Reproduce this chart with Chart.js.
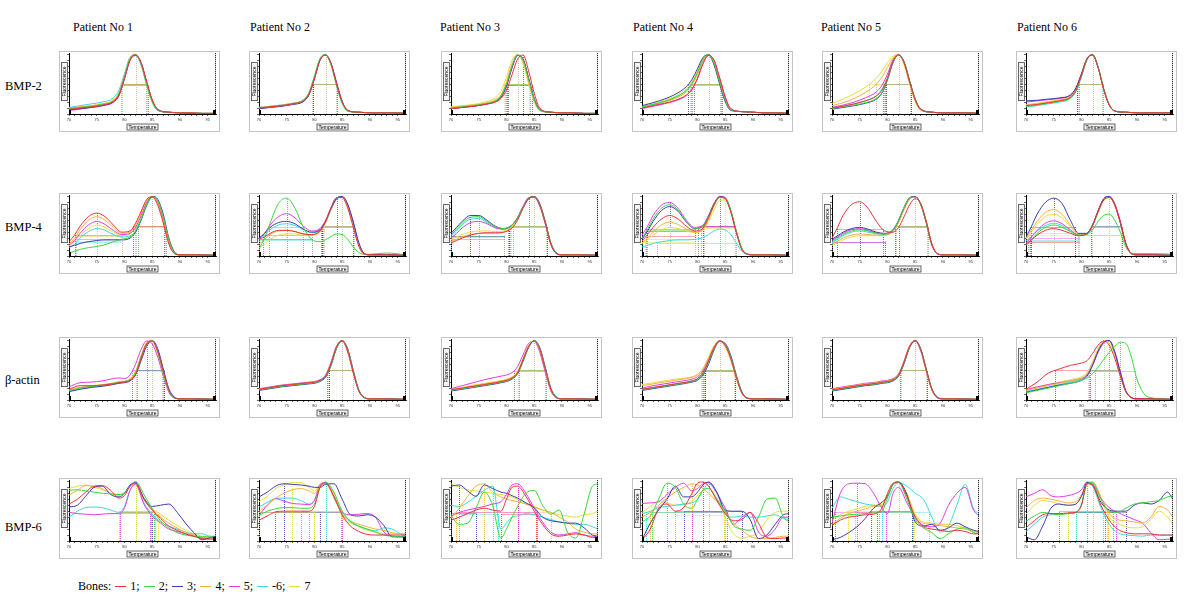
<!DOCTYPE html>
<html><head><meta charset="utf-8">
<script src="https://cdn.jsdelivr.net/npm/chart.js@4/dist/chart.umd.min.js"></script>
<style>
body{margin:0;width:1200px;height:596px;background:#fff;position:relative;overflow:hidden;font-family:"Liberation Serif","Times New Roman",serif;color:#000}
.lbl{position:absolute;font-size:12px;white-space:nowrap;line-height:1}
.frame{position:absolute;width:159px;height:79px;border:1px solid #c4c4c4;background:#fff}
.sw{display:inline-block;width:11px;height:0;border-top:1px solid;vertical-align:middle;margin:0 4px 1px 1px}
canvas{display:block}
</style></head><body>
<script>
// ---------- labels ----------
const PATIENTS = ['Patient No 1','Patient No 2','Patient No 3','Patient No 4','Patient No 5','Patient No 6'];
const GENES = ['BMP-2','BMP-4','β-actin','BMP-6'];
const BONES = ['1','2','3','4','5','-6','7'];
const COLORS = ['#f0303a','#3ad83a','#3c3cb4','#f5b03c','#e23ce2','#3cdada','#e8dc3c'];
const X_TICKS = [70,75,80,85,90,95];

// ---------- temperatures (x) per gene ----------
const X_BMP2  = [70,72,74,76,78,79,80,81,82,83,84,85,86,88,90,92,94,96.5];
const X_BMP4  = [70,71,72,73.5,75,76.5,78,79.5,81,82,83,84,85,86,87,88,89,90,93,96.5];
const X_ACTIN = [70,72,74,76,78,79,80,81,82,83,84,85,86,87,88,89,90,92,96.5];
const X_BMP6  = [70,71.5,73,74.5,76,77.5,79,80,81,82,83.5,85,86.5,88,89.5,91,92.5,94,95.5,96.5];

// ---------- fluorescence (% of panel height), bones 1..7 ----------
const BMP2_P1 = [
 [8,10,12,15,21,32,60,90,99,86,54,24,8,3,2,2,1,1],
 [9,11,13,16,22,34,62,93,100,84,50,21,6,3,2,2,1,1],
 [7,9,11,14,20,31,60,91,99,86,53,23,7,3,2,1,1,1],
 [10,12,14,17,23,35,64,94,99,83,50,21,6,3,2,2,1,1],
 [6,8,11,14,20,31,59,90,98,86,54,23,7,3,2,2,1,1],
 [11,14,17,20,27,40,68,95,98,82,48,20,6,3,2,2,1,1],
 [10,12,14,17,24,36,64,94,100,83,50,20,6,3,2,2,1,1]];
const BMP2_P2 = [
 [10,12,14,17,22,33,60,90,99,84,50,20,6,3,2,2,2,1],
 [10,12,14,17,23,35,63,93,100,82,47,18,5,3,2,2,2,1],
 [9,11,13,16,21,32,59,90,99,85,52,21,6,3,2,2,2,1],
 [11,13,15,18,23,35,62,92,99,83,49,19,5,3,2,2,2,1],
 [9,11,13,16,21,32,60,91,99,84,51,21,6,3,2,2,2,1],
 [11,13,15,18,24,36,64,93,99,82,47,18,5,3,2,2,2,1],
 [10,12,14,17,23,34,62,92,100,83,48,19,5,3,2,2,2,1]];
const BMP2_P3 = [
 [9,11,13,16,20,26,40,66,92,99,72,35,10,3,2,2,1,1],
 [10,12,14,17,22,30,50,80,99,90,58,25,7,3,2,2,1,1],
 [9,11,13,16,21,28,47,78,98,92,60,26,7,3,2,2,1,1],
 [11,13,15,18,24,32,54,84,100,88,55,22,6,3,2,2,1,1],
 [9,11,13,16,21,28,47,77,98,92,60,26,8,3,2,2,1,1],
 [10,12,14,17,22,30,50,80,99,90,57,24,7,3,2,2,1,1],
 [12,14,16,20,27,38,62,90,100,84,50,20,6,3,2,2,1,1]];
const BMP2_P4 = [
 [10,14,18,23,32,42,60,85,99,90,60,28,9,4,3,2,2,1],
 [12,16,21,28,40,52,70,92,100,85,54,24,7,4,3,2,2,1],
 [14,19,25,33,46,58,76,95,99,82,50,21,6,4,3,2,2,1],
 [11,15,20,26,37,48,66,89,99,87,56,25,8,4,3,2,2,1],
 [9,13,17,22,31,41,59,84,98,90,61,29,9,4,3,2,2,1],
 [12,16,21,28,39,50,68,90,100,86,55,24,7,4,3,2,2,1],
 [13,17,23,30,43,55,73,93,100,84,52,22,7,4,3,2,2,1]];
const BMP2_P5 = [
 [10,13,17,22,30,40,60,88,99,86,54,24,8,3,2,2,2,1],
 [9,12,15,19,26,36,58,87,99,87,55,25,8,3,2,2,2,1],
 [8,11,14,18,25,35,57,86,99,88,56,25,8,3,2,2,2,1],
 [14,19,26,36,50,62,78,94,100,84,52,22,7,3,2,2,2,1],
 [11,15,20,27,37,48,67,91,100,85,53,23,7,3,2,2,2,1],
 [10,13,17,22,31,42,62,89,99,86,54,24,8,3,2,2,2,1],
 [18,25,34,45,60,72,86,97,99,82,50,21,6,3,2,2,2,1]];
const BMP2_P6 = [
 [14,16,19,22,28,40,65,92,99,78,42,15,5,3,2,2,2,2],
 [13,15,18,21,27,38,63,91,100,79,43,16,5,3,2,2,2,2],
 [22,23,25,27,32,44,68,93,99,78,42,15,5,3,2,2,2,2],
 [15,17,20,23,29,41,66,92,99,78,42,15,5,3,2,2,2,2],
 [20,22,24,26,31,43,67,93,100,78,41,15,5,3,2,2,2,2],
 [12,14,17,20,26,38,63,91,99,79,43,16,5,3,2,2,2,2],
 [16,18,21,24,30,42,66,93,100,78,41,15,5,3,2,2,2,2]];

const BMP4_P1 = [
 [24,35,50,66,72,66,52,40,42,55,75,95,99,85,55,20,4,2,2,1],
 [5,8,11,14,16,19,24,28,32,42,62,86,99,93,66,28,6,2,2,1],
 [15,18,21,24,26,27,27,27,30,40,60,85,100,95,70,30,7,2,2,1],
 [20,30,44,60,66,60,48,38,40,52,72,93,100,88,58,22,5,2,2,1],
 [18,26,38,52,58,53,43,36,38,48,68,90,99,90,62,24,5,2,2,1],
 [14,20,30,41,46,43,36,32,34,42,62,85,98,92,66,27,6,2,2,1],
 [17,24,34,46,52,48,40,34,37,47,67,89,99,90,62,24,5,2,2,1]];
const BMP4_P2 = [
 [28,32,38,43,43,41,37,36,42,58,82,98,98,80,48,16,3,2,2,1],
 [12,30,55,88,97,80,48,28,24,27,33,37,36,28,15,6,3,3,5,2],
 [30,38,48,56,58,54,45,40,44,58,80,97,100,87,57,22,4,2,2,1],
 [20,28,36,42,43,41,37,36,41,56,80,97,99,82,51,18,3,2,2,1],
 [28,38,52,66,71,64,50,42,46,60,80,96,99,84,54,20,4,2,2,1],
 [28,35,44,52,54,51,44,39,43,57,78,95,99,86,57,22,4,2,2,1],
 [14,20,28,35,37,37,35,35,40,55,78,96,100,85,55,20,4,2,2,1]];
const BMP4_P3 = [
 [22,26,30,35,38,39,39,40,47,60,80,96,99,85,55,20,4,2,2,1],
 [35,45,55,65,66,58,49,46,52,64,82,96,99,86,56,21,5,2,2,1],
 [38,48,58,68,68,60,50,46,52,64,82,97,100,88,58,22,5,2,2,1],
 [25,28,32,36,38,38,38,40,48,62,82,97,100,86,56,21,5,2,2,1],
 [30,38,47,56,58,54,47,45,52,65,84,98,98,84,53,19,4,2,2,1],
 [33,42,52,62,63,56,48,45,51,63,81,96,99,86,56,21,5,2,2,1],
 [28,32,36,40,42,42,41,42,50,63,82,96,99,85,55,20,4,2,2,1]];
const BMP4_P4 = [
 [25,36,48,62,68,62,50,42,47,64,86,99,96,74,39,11,3,2,2,1],
 [30,45,62,80,86,77,58,46,50,66,86,98,97,77,42,13,3,2,2,1],
 [28,42,58,76,83,75,57,46,50,67,88,100,98,76,41,12,3,2,2,1],
 [22,30,40,52,57,53,45,40,45,62,84,98,97,76,41,12,3,2,2,1],
 [35,50,68,85,90,80,60,48,52,68,88,99,96,75,40,12,3,2,2,1],
 [15,18,21,24,26,27,27,28,31,36,42,45,44,36,22,8,3,2,2,1],
 [20,27,35,44,48,46,42,39,44,58,78,93,94,76,42,13,3,2,2,1]];
const BMP4_P5 = [
 [30,48,68,86,91,80,58,42,40,48,66,86,96,88,58,20,4,2,2,1],
 [24,30,36,42,44,42,38,37,44,60,82,97,99,86,56,19,4,2,2,1],
 [28,34,40,46,48,45,40,38,44,60,82,98,100,86,55,18,4,2,2,1],
 [20,25,30,35,37,36,35,35,41,56,78,95,99,88,58,21,4,2,2,1],
 [26,32,38,44,46,43,39,37,43,58,80,96,99,87,57,20,4,2,2,1],
 [22,28,34,40,42,40,37,36,42,57,79,96,99,87,57,20,4,2,2,1],
 [18,22,27,32,34,34,34,35,42,57,79,96,100,87,57,20,4,2,2,1]];
const BMP4_P6 = [
 [20,27,35,43,46,43,38,34,38,52,75,94,98,86,57,21,4,2,2,1],
 [18,27,38,48,52,48,41,35,36,44,58,68,70,60,40,15,5,4,4,3],
 [32,50,70,90,97,88,60,38,38,52,76,96,100,86,56,20,4,2,2,1],
 [30,44,58,73,78,70,52,37,38,52,75,95,99,85,55,20,4,2,2,1],
 [22,32,43,55,59,54,44,35,38,52,76,96,100,88,58,21,4,2,2,1],
 [25,33,42,51,55,51,42,35,37,50,73,94,99,86,57,21,4,2,2,1],
 [28,40,53,66,70,64,49,36,38,50,72,92,98,85,56,20,4,2,2,1]];

const ACTIN_P1 = [
 [18,24,24,25,27,29,30,33,43,70,94,99,82,48,17,4,2,2,1],
 [16,20,23,25,28,30,31,34,45,72,95,100,80,45,15,4,2,2,1],
 [14,18,21,23,26,28,29,32,42,66,90,100,86,52,19,5,2,2,1],
 [17,21,23,25,28,30,31,35,47,74,96,99,79,44,15,4,2,2,1],
 [22,29,30,32,36,37,36,42,60,85,99,94,72,40,13,3,2,2,1],
 [15,19,22,24,27,29,30,33,44,70,94,99,82,47,16,4,2,2,1],
 [16,21,24,26,29,31,32,36,48,75,96,98,78,44,15,4,2,2,1]];
const ACTIN_P2 = [
 [18,21,24,26,28,29,30,33,40,62,90,100,82,46,15,4,2,2,1],
 [17,20,23,25,27,28,29,32,39,60,88,100,84,48,16,4,2,2,1],
 [16,19,22,24,26,27,28,31,38,58,87,99,86,50,17,4,2,2,1],
 [18,21,24,26,28,29,30,33,40,62,90,100,82,46,15,4,2,2,1],
 [19,22,25,27,29,30,31,34,42,64,91,99,80,45,15,4,2,2,1],
 [17,20,23,25,27,28,29,32,39,61,89,100,83,47,16,4,2,2,1],
 [18,21,24,26,28,29,30,33,41,63,90,99,81,46,15,4,2,2,1]];
const ACTIN_P3 = [
 [17,20,23,26,29,31,33,37,46,68,90,99,86,52,18,4,2,2,1],
 [16,19,22,25,28,30,32,36,45,66,89,100,87,53,19,5,2,2,1],
 [15,18,21,24,27,29,31,35,44,65,88,100,88,55,20,5,2,2,1],
 [17,20,24,27,30,32,34,38,47,69,91,99,85,50,17,4,2,2,1],
 [19,24,29,34,38,40,42,46,56,76,95,98,80,46,15,4,2,2,1],
 [16,19,22,25,28,30,32,36,45,67,89,99,86,52,18,4,2,2,1],
 [18,21,25,28,31,33,35,39,48,70,91,99,84,50,17,4,2,2,1]];
const ACTIN_P4 = [
 [18,21,24,27,30,32,36,46,66,88,99,92,70,38,12,3,2,2,1],
 [17,20,23,26,29,31,35,44,64,86,99,93,72,40,13,3,2,2,1],
 [16,19,22,25,28,30,33,42,60,84,98,95,75,42,14,3,2,2,1],
 [24,27,30,33,36,38,42,52,70,90,99,90,68,37,12,3,2,2,1],
 [20,24,27,30,33,35,39,49,68,89,100,91,69,38,12,3,2,2,1],
 [18,21,24,27,30,32,35,45,64,87,99,92,71,39,13,3,2,2,1],
 [26,29,32,35,37,39,43,53,72,91,99,89,67,36,11,3,2,2,1]];
const ACTIN_P5 = [
 [17,20,23,26,28,30,31,34,42,64,90,100,84,50,18,4,2,2,1],
 [16,19,22,25,27,29,30,33,41,63,89,100,85,51,18,4,2,2,1],
 [15,18,21,24,26,28,29,32,40,61,88,99,86,52,19,5,2,2,1],
 [18,21,24,27,29,31,32,35,43,65,91,100,83,49,17,4,2,2,1],
 [19,22,25,28,30,32,33,36,44,66,91,99,82,48,17,4,2,2,1],
 [16,19,22,25,27,29,30,33,41,63,89,100,85,51,18,4,2,2,1],
 [17,20,23,26,28,30,31,34,42,64,90,100,84,50,18,4,2,2,1]];
const ACTIN_P6 = [
 [18,30,45,52,58,60,62,66,78,92,99,92,70,40,14,4,2,2,1],
 [12,16,20,24,28,30,33,37,44,55,68,80,90,97,95,72,35,5,1],
 [13,17,21,25,28,30,33,40,58,82,97,100,80,46,15,4,2,2,1],
 [16,20,24,28,32,34,37,44,62,84,98,98,78,44,14,4,2,2,1],
 [17,22,26,29,32,34,36,42,58,80,95,100,82,48,16,4,2,2,1],
 [14,18,22,26,30,32,35,42,60,84,98,99,78,44,14,4,2,2,1],
 [18,22,26,30,34,36,39,46,64,86,99,96,76,42,13,4,2,2,1]];

const BMP6_P1 = [
 [62,70,82,92,93,85,72,76,92,97,70,52,38,25,18,12,8,4,3,3],
 [85,86,84,82,80,79,78,80,92,100,78,54,34,22,14,10,8,7,7,6],
 [57,60,75,90,92,78,74,80,94,98,72,58,60,62,48,30,14,2,6,8],
 [77,85,93,92,88,80,77,80,92,97,70,52,40,30,22,14,10,6,5,4],
 [48,46,45,44,45,46,46,55,85,95,62,42,30,20,16,12,8,5,4,4],
 [40,50,56,57,56,52,48,58,85,97,64,45,32,25,20,15,12,12,8,8],
 [88,92,94,90,86,80,78,82,92,96,72,55,45,35,26,18,12,8,6,5]];
const BMP6_P2 = [
 [35,42,49,50,50,50,50,58,90,97,75,44,25,16,11,10,10,10,10,10],
 [43,50,54,56,56,55,55,62,90,99,82,50,33,25,20,15,10,8,7,7],
 [74,82,92,96,95,94,92,90,90,95,96,70,44,42,44,40,26,7,7,7],
 [50,60,72,80,86,88,84,80,92,96,74,46,34,28,24,20,18,14,12,12],
 [43,60,71,67,63,62,61,68,95,98,75,48,44,45,46,40,15,8,7,7],
 [57,65,71,72,72,68,62,68,92,98,72,45,32,25,20,17,22,20,12,8],
 [66,75,88,94,98,98,90,84,95,98,80,40,30,24,18,15,12,12,12,12]];
const BMP6_P3 = [
 [35,40,46,52,55,52,50,70,90,92,75,50,28,12,8,10,12,10,6,6],
 [42,28,30,55,82,60,5,20,40,58,80,85,60,45,52,15,5,45,92,96],
 [92,94,84,75,94,88,82,80,76,72,64,56,40,34,32,30,30,22,10,8],
 [38,55,75,92,96,82,74,70,68,66,62,58,52,48,40,32,20,15,12,12],
 [42,48,52,55,58,62,66,78,94,96,80,55,32,15,10,12,14,10,8,8],
 [60,58,65,75,85,92,20,30,40,42,46,44,40,36,32,30,28,28,24,20],
 [96,90,86,84,82,80,78,76,74,70,62,56,52,48,44,42,40,44,46,50]];
const BMP6_P4 = [
 [2,20,55,62,50,56,80,97,99,92,68,46,34,36,48,30,6,4,5,5],
 [32,42,70,97,90,62,55,70,85,88,70,50,26,20,18,40,70,72,40,32],
 [2,30,52,70,92,74,74,82,94,99,82,52,50,50,36,4,10,28,44,46],
 [40,48,60,72,82,90,96,94,88,80,66,48,30,18,8,4,4,6,8,8],
 [63,64,66,78,90,97,84,88,96,98,80,55,28,40,48,15,8,20,40,40],
 [46,50,56,58,60,62,64,70,85,96,80,45,40,42,40,40,42,44,38,36],
 [48,58,66,64,60,62,66,76,85,88,72,40,12,5,8,15,35,48,50,50]];
const BMP6_P5 = [
 [26,35,40,42,44,45,55,80,97,99,75,40,24,20,18,16,18,16,12,12],
 [40,42,44,45,46,47,50,72,95,98,70,36,22,14,4,12,20,22,14,12],
 [2,6,14,24,38,55,65,75,95,99,78,32,25,28,18,22,30,24,18,16],
 [28,38,46,50,54,58,60,75,94,98,76,42,30,28,26,24,22,20,16,14],
 [30,80,96,97,96,80,55,46,80,90,64,40,26,24,30,60,80,90,52,42],
 [55,74,70,66,62,60,58,66,88,98,92,80,70,40,15,25,60,95,55,45],
 [36,44,50,54,58,60,62,78,96,99,80,45,32,30,28,28,26,22,18,16]];
const BMP6_P6 = [
 [22,34,44,46,46,47,48,60,96,94,60,35,20,14,12,12,12,10,10,10],
 [33,42,48,46,44,46,48,60,96,98,70,50,48,55,62,64,66,68,74,76],
 [7,2,25,55,62,60,62,75,98,94,65,52,50,50,60,64,62,68,82,70],
 [55,68,72,70,67,64,66,78,95,99,74,46,36,34,32,30,40,58,52,40],
 [74,80,86,76,74,76,80,86,99,96,72,56,48,42,36,30,14,2,3,3],
 [16,28,40,44,46,46,48,62,98,92,56,28,14,10,9,8,10,10,10,10],
 [45,60,68,66,62,60,62,76,94,99,70,40,30,24,22,24,36,50,40,28]];

// ---------- layout ----------
const COL_X = [59,249,441,632,822,1016];
const ROW_Y = [51,193,337,478];
const ROWS = [
  {gene:0, x:X_BMP2,  panels:[BMP2_P1,BMP2_P2,BMP2_P3,BMP2_P4,BMP2_P5,BMP2_P6], windows:[[70,96.5]]},
  {gene:1, x:X_BMP4,  panels:[BMP4_P1,BMP4_P2,BMP4_P3,BMP4_P4,BMP4_P5,BMP4_P6], windows:[[70,79],[79,96.5]]},
  {gene:2, x:X_ACTIN, panels:[ACTIN_P1,ACTIN_P2,ACTIN_P3,ACTIN_P4,ACTIN_P5,ACTIN_P6], windows:[[70,96.5]]},
  {gene:3, x:X_BMP6,  panels:[BMP6_P1,BMP6_P2,BMP6_P3,BMP6_P4,BMP6_P5,BMP6_P6], windows:[[70,96.5]]}
];
const ROW_LABEL_Y = [80,221,374,521];
const PATIENT_X = [73,250,440,633,821,1017];

function addLabel(text, x, y, extra){
  const d=document.createElement('div'); d.className='lbl'; d.textContent=text;
  d.style.left=x+'px'; d.style.top=y+'px'; if(extra) Object.assign(d.style, extra);
  document.body.appendChild(d); return d;
}
PATIENTS.forEach((p,i)=>addLabel(p, PATIENT_X[i], 21));
GENES.forEach((g,i)=>addLabel(g, 5, ROW_LABEL_Y[i], {fontSize:'12.5px'}));

// legend
const leg=document.createElement('div'); leg.className='lbl'; leg.style.left='78px'; leg.style.top='580px';
leg.appendChild(document.createTextNode('Bones: '));
BONES.forEach((b,i)=>{
  const s=document.createElement('span'); s.className='sw'; s.style.borderTopColor=COLORS[i]; leg.appendChild(s);
  leg.appendChild(document.createTextNode(b+(i<BONES.length-1?'; ':'')));
});
document.body.appendChild(leg);

function interpX(p0,p1,h){ if(p1.y===p0.y) return p0.x; return p0.x+(h-p0.y)*(p1.x-p0.x)/(p1.y-p0.y); }

const decor = {
  id:'decor',
  beforeDatasetsDraw(chart, args, opts){
    const ctx=chart.ctx, xs=chart.scales.x, ys=chart.scales.y;
    ctx.save(); ctx.lineWidth=1; ctx.setLineDash([1,1]); ctx.globalAlpha=0.85;
    chart.data.datasets.forEach(ds=>{
      const pts=ds.data;
      (opts.windows||[[70,96.5]]).forEach(([lo,hi])=>{
        let m=-1;
        pts.forEach((p,i)=>{ if(p.x>=lo && p.x<=hi && (m<0 || p.y>pts[m].y)) m=i; });
        if(m<=0 || m>=pts.length-1) return;
        if(pts[m-1].y>pts[m].y || pts[m+1].y>pts[m].y || pts[m].y<45) return;
        const pk=pts[m], half=pk.y/2;
        let l=m; while(l>0 && pts[l-1].y>=half && pts[l-1].y<=pts[l].y) l--;
        const xl = (l>0 && pts[l-1].y<half) ? interpX(pts[l-1],pts[l],half) : pts[l].x;
        let r=m; while(r<pts.length-1 && pts[r+1].y>=half && pts[r+1].y<=pts[r].y) r++;
        const xr = (r<pts.length-1 && pts[r+1].y<half) ? interpX(pts[r],pts[r+1],half) : pts[r].x;
        const yb=ys.getPixelForValue(0), yh=ys.getPixelForValue(half), yp=ys.getPixelForValue(pk.y);
        const pl=Math.round(xs.getPixelForValue(xl))+0.5, pr=Math.round(xs.getPixelForValue(xr))+0.5, pp=Math.round(xs.getPixelForValue(pk.x))+0.5;
        ctx.strokeStyle=ds.borderColor;
        ctx.beginPath();
        ctx.moveTo(pl,yb); ctx.lineTo(pl,yh);
        ctx.moveTo(pr,yb); ctx.lineTo(pr,yh);
        ctx.moveTo(pp,yb); ctx.lineTo(pp,yp);
        ctx.moveTo(pl,Math.round(yh)+0.5); ctx.lineTo(pr,Math.round(yh)+0.5);
        ctx.stroke();
      });
    });
    ctx.restore();
  },
  afterDraw(chart){
    const ctx=chart.ctx, a=chart.chartArea;
    ctx.save();
    ctx.strokeStyle='#000'; ctx.lineWidth=1; ctx.setLineDash([1,1]);
    ctx.beginPath(); ctx.moveTo(Math.round(a.right)-0.5,a.top); ctx.lineTo(Math.round(a.right)-0.5,a.bottom); ctx.stroke();
    ctx.setLineDash([]);
    ctx.fillStyle='#000';
    ctx.fillRect(a.left, a.bottom-4, 2, 4);
    ctx.fillRect(a.right-3, a.bottom-4, 3, 4);
    ctx.font='5px "Liberation Sans", Arial, sans-serif';
    ctx.textAlign='center'; ctx.textBaseline='middle';
    ctx.lineWidth=0.8; ctx.strokeStyle='#444';
    const cx=(a.left+a.right)/2, ty=a.bottom+13;
    ctx.fillStyle='#f4f4f4'; ctx.fillRect(cx-15.5, ty-3, 31, 6); ctx.strokeRect(cx-15.5, ty-3, 31, 6);
    ctx.fillStyle='#000'; ctx.fillText('Temperature', cx, ty+0.3);
    const fx=a.left-4.5, fy=(a.top+a.bottom)/2-2;
    ctx.translate(fx,fy); ctx.rotate(-Math.PI/2);
    ctx.fillStyle='#f4f4f4'; ctx.fillRect(-19,-3,38,6); ctx.strokeRect(-19,-3,38,6);
    ctx.fillStyle='#000'; ctx.fillText('Fluorescence', 0, 0.3);
    ctx.restore();
  }
};

ROWS.forEach((row, ri)=>{
  row.panels.forEach((series, ci)=>{
    const fr=document.createElement('div'); fr.className='frame';
    fr.style.left=COL_X[ci]+'px'; fr.style.top=ROW_Y[ri]+'px';
    const cv=document.createElement('canvas'); cv.width=159; cv.height=79;
    fr.appendChild(cv); document.body.appendChild(fr);
    new Chart(cv, {
      type:'line',
      data:{datasets: series.map((vals,i)=>({
        label:'Bone '+BONES[i],
        data: row.x.map((x,j)=>({x:x, y:vals[j]})),
        borderColor:COLORS[i], borderWidth:1, pointRadius:0, fill:false,
        cubicInterpolationMode:'monotone'
      }))},
      options:{
        responsive:false, animation:false, events:[],
        layout:{padding:{top:1,right:3,left:0,bottom:0}},
        plugins:{legend:{display:false}, tooltip:{enabled:false}, decor:{windows:row.windows}},
        scales:{
          x:{type:'linear', min:70, max:96.5,
             afterBuildTicks(s){ const t=[]; for(let v=X_TICKS[0]; v<=X_TICKS[X_TICKS.length-1]; v++) t.push({value:v}); s.ticks=t; },
             ticks:{autoSkip:false, maxRotation:0, padding:1, color:'#333', font:{size:4, family:'"Liberation Sans", Arial'},
                    callback:v=> X_TICKS.includes(v) ? String(v) : ''},
             grid:{drawOnChartArea:false, tickLength:2, color:'#000', lineWidth:0.6},
             border:{color:'#000', width:1},
             afterFit(s){ s.height=17; }},
          y:{min:0, max:102,
             ticks:{stepSize:10, includeBounds:false, callback:()=>'', font:{size:2}, padding:0},
             grid:{drawOnChartArea:false, tickLength:2, color:'#000', lineWidth:0.6},
             border:{color:'#000', width:1},
             afterFit(s){ s.width=9; }}
        }
      },
      plugins:[decor]
    });
  });
});
</script>
</body></html>
